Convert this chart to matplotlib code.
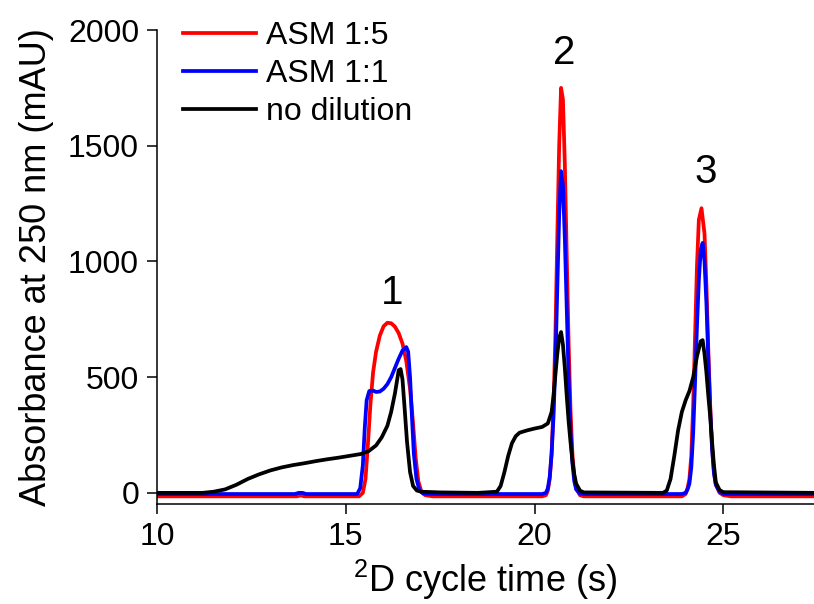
import matplotlib.pyplot as plt

plt.rcParams['font.family'] = ['Liberation Sans', 'DejaVu Sans']
plt.rcParams['mathtext.fontset'] = 'custom'
plt.rcParams['mathtext.rm'] = 'Liberation Sans'

# retention time (s) / absorbance (mAU)
asm15_t = [10.0, 13.7, 13.8, 13.9, 15.35, 15.45, 15.52, 15.58, 15.65, 15.72, 15.8,
           15.9, 16.0, 16.1, 16.2, 16.3, 16.4, 16.5, 16.6, 16.7, 16.78, 16.85,
           16.92, 17.0, 17.1, 17.3,
           20.2, 20.3, 20.35, 20.4, 20.45, 20.5, 20.55, 20.6, 20.65, 20.7, 20.75, 20.8,
           20.85, 20.9, 20.95, 21.0, 21.05, 21.1, 21.2, 21.3,
           23.9, 24.0, 24.05, 24.1, 24.15, 24.2, 24.25, 24.3, 24.35, 24.42, 24.5, 24.55,
           24.6, 24.65, 24.7, 24.75, 24.8, 24.9, 25.0, 25.2, 27.5]
asm15_a = [-15, -15, -11, -15, -15, 0, 60, 200, 380, 520, 610,
           680, 720, 735, 733, 718, 690, 645, 570, 450, 300, 150,
           50, 5, -10, -15,
           -15, -10, 10, 60, 170, 380, 680, 1100, 1500, 1750, 1700, 1420,
           1030, 650, 360, 170, 70, 20, -10, -15,
           -15, -5, 20, 60, 160, 380, 680, 980, 1180, 1230, 1120, 900,
           620, 380, 200, 90, 35, 0, -10, -15, -15]

asm11_t = [10.0, 13.65, 13.75, 13.85, 13.95, 15.3, 15.38, 15.45, 15.5, 15.55, 15.62,
           15.72, 15.8, 15.9, 16.0, 16.1, 16.2, 16.3, 16.4, 16.5, 16.6, 16.65, 16.7,
           16.75, 16.8, 16.87, 16.95, 17.05, 17.3,
           20.2, 20.3, 20.35, 20.4, 20.45, 20.5, 20.55, 20.6, 20.65, 20.7, 20.75, 20.8,
           20.85, 20.9, 20.95, 21.0, 21.05, 21.1, 21.2, 21.3,
           23.9, 24.0, 24.05, 24.1, 24.15, 24.2, 24.25, 24.3, 24.35, 24.4, 24.45, 24.5,
           24.55, 24.6, 24.65, 24.7, 24.75, 24.8, 24.9, 25.0, 27.5]
asm11_a = [-5, -5, 0, 0, -5, -5, 20, 120, 280, 400, 440,
           442, 436, 438, 450, 470, 500, 540, 580, 615, 630, 610, 500,
           330, 170, 60, 10, -3, -5,
           -5, 0, 20, 70, 170, 330, 560, 880, 1200, 1390, 1330, 1100,
           800, 500, 270, 130, 50, 15, -3, -5,
           -5, 0, 15, 40, 110, 260, 480, 720, 920, 1050, 1080, 1000,
           820, 580, 360, 190, 85, 35, 5, -5, -5]

nodil_t = [10.0, 11.2, 11.5, 11.8, 12.1, 12.4, 12.7, 13.0, 13.3, 13.6, 13.9, 14.2,
           14.5, 14.8, 15.1, 15.4, 15.6, 15.8, 15.95, 16.1, 16.2, 16.3, 16.4,
           16.45, 16.5, 16.55, 16.62, 16.7, 16.78, 16.88, 17.0, 17.5, 18.5,
           19.0, 19.1, 19.2, 19.3, 19.4, 19.5, 19.6, 19.8, 20.0, 20.2, 20.35, 20.45,
           20.5, 20.55, 20.6, 20.65, 20.7, 20.75, 20.8, 20.85, 20.9, 20.95, 21.0,
           21.05, 21.1, 21.2, 21.3, 23.4,
           23.5, 23.6, 23.7, 23.8, 23.9, 24.0, 24.1, 24.2, 24.3, 24.4, 24.45, 24.5,
           24.55, 24.6, 24.65, 24.7, 24.75, 24.8, 24.9, 25.0, 27.5]
nodil_a = [0, 0, 5, 15, 35, 60, 80, 97, 110, 120, 128, 137,
           145, 152, 160, 168, 180, 205, 240, 290, 350, 430, 530,
           535, 490, 380, 220, 90, 30, 10, 5, 2, 0,
           5, 30, 90, 160, 215, 245, 260, 270, 278, 285, 300, 350,
           420, 510, 600, 670, 695, 640, 540, 420, 310, 220, 140,
           80, 40, 10, 2, 0,
           10, 60, 160, 270, 350, 400, 440, 500, 590, 655, 660, 600,
           520, 420, 330, 220, 120, 45, 12, 3, 0]

peak_ids = ['1', '2', '3']
peak_x = [16.22, 20.79, 24.52]
peak_y = [864, 1900, 1387]

fig = plt.figure(figsize=(8.14, 6.04), dpi=100)
ax = fig.add_axes([0.193, 0.1656, 0.807, 0.7847])

ax.plot(asm15_t, asm15_a, color='#ff0000', lw=2.7, label='ASM 1:5')
ax.plot(asm11_t, asm11_a, color='#0000ff', lw=2.7, label='ASM 1:1')
ax.plot(nodil_t, nodil_a, color='black', lw=2.7, label='no dilution')

for s, x, y in zip(peak_ids, peak_x, peak_y):
    ax.text(x, y, s, fontsize=29, ha='center', va='center')

ax.set_xlim(10, 27.4)
ax.set_ylim(-48, 2000)
ax.set_xticks([10, 15, 20, 25])
ax.set_yticks([0, 500, 1000, 1500, 2000])
ax.tick_params(labelsize=23, length=7, width=1.1, pad=6)
for side in ['top', 'right']:
    ax.spines[side].set_visible(False)
for side in ['left', 'bottom']:
    ax.spines[side].set_linewidth(1.1)

ax.set_xlabel(r'$^{2}$D cycle time (s)', fontsize=26, labelpad=4)
ax.set_ylabel('Absorbance at 250 nm (mAU)', fontsize=26, labelpad=10)

ax.legend(loc='upper left', bbox_to_anchor=(0.02, 1.045), frameon=False,
          fontsize=23, handlelength=2.3, handletextpad=0.3, labelspacing=0.25,
          borderaxespad=0)

fig.savefig('out.png', dpi=100)
